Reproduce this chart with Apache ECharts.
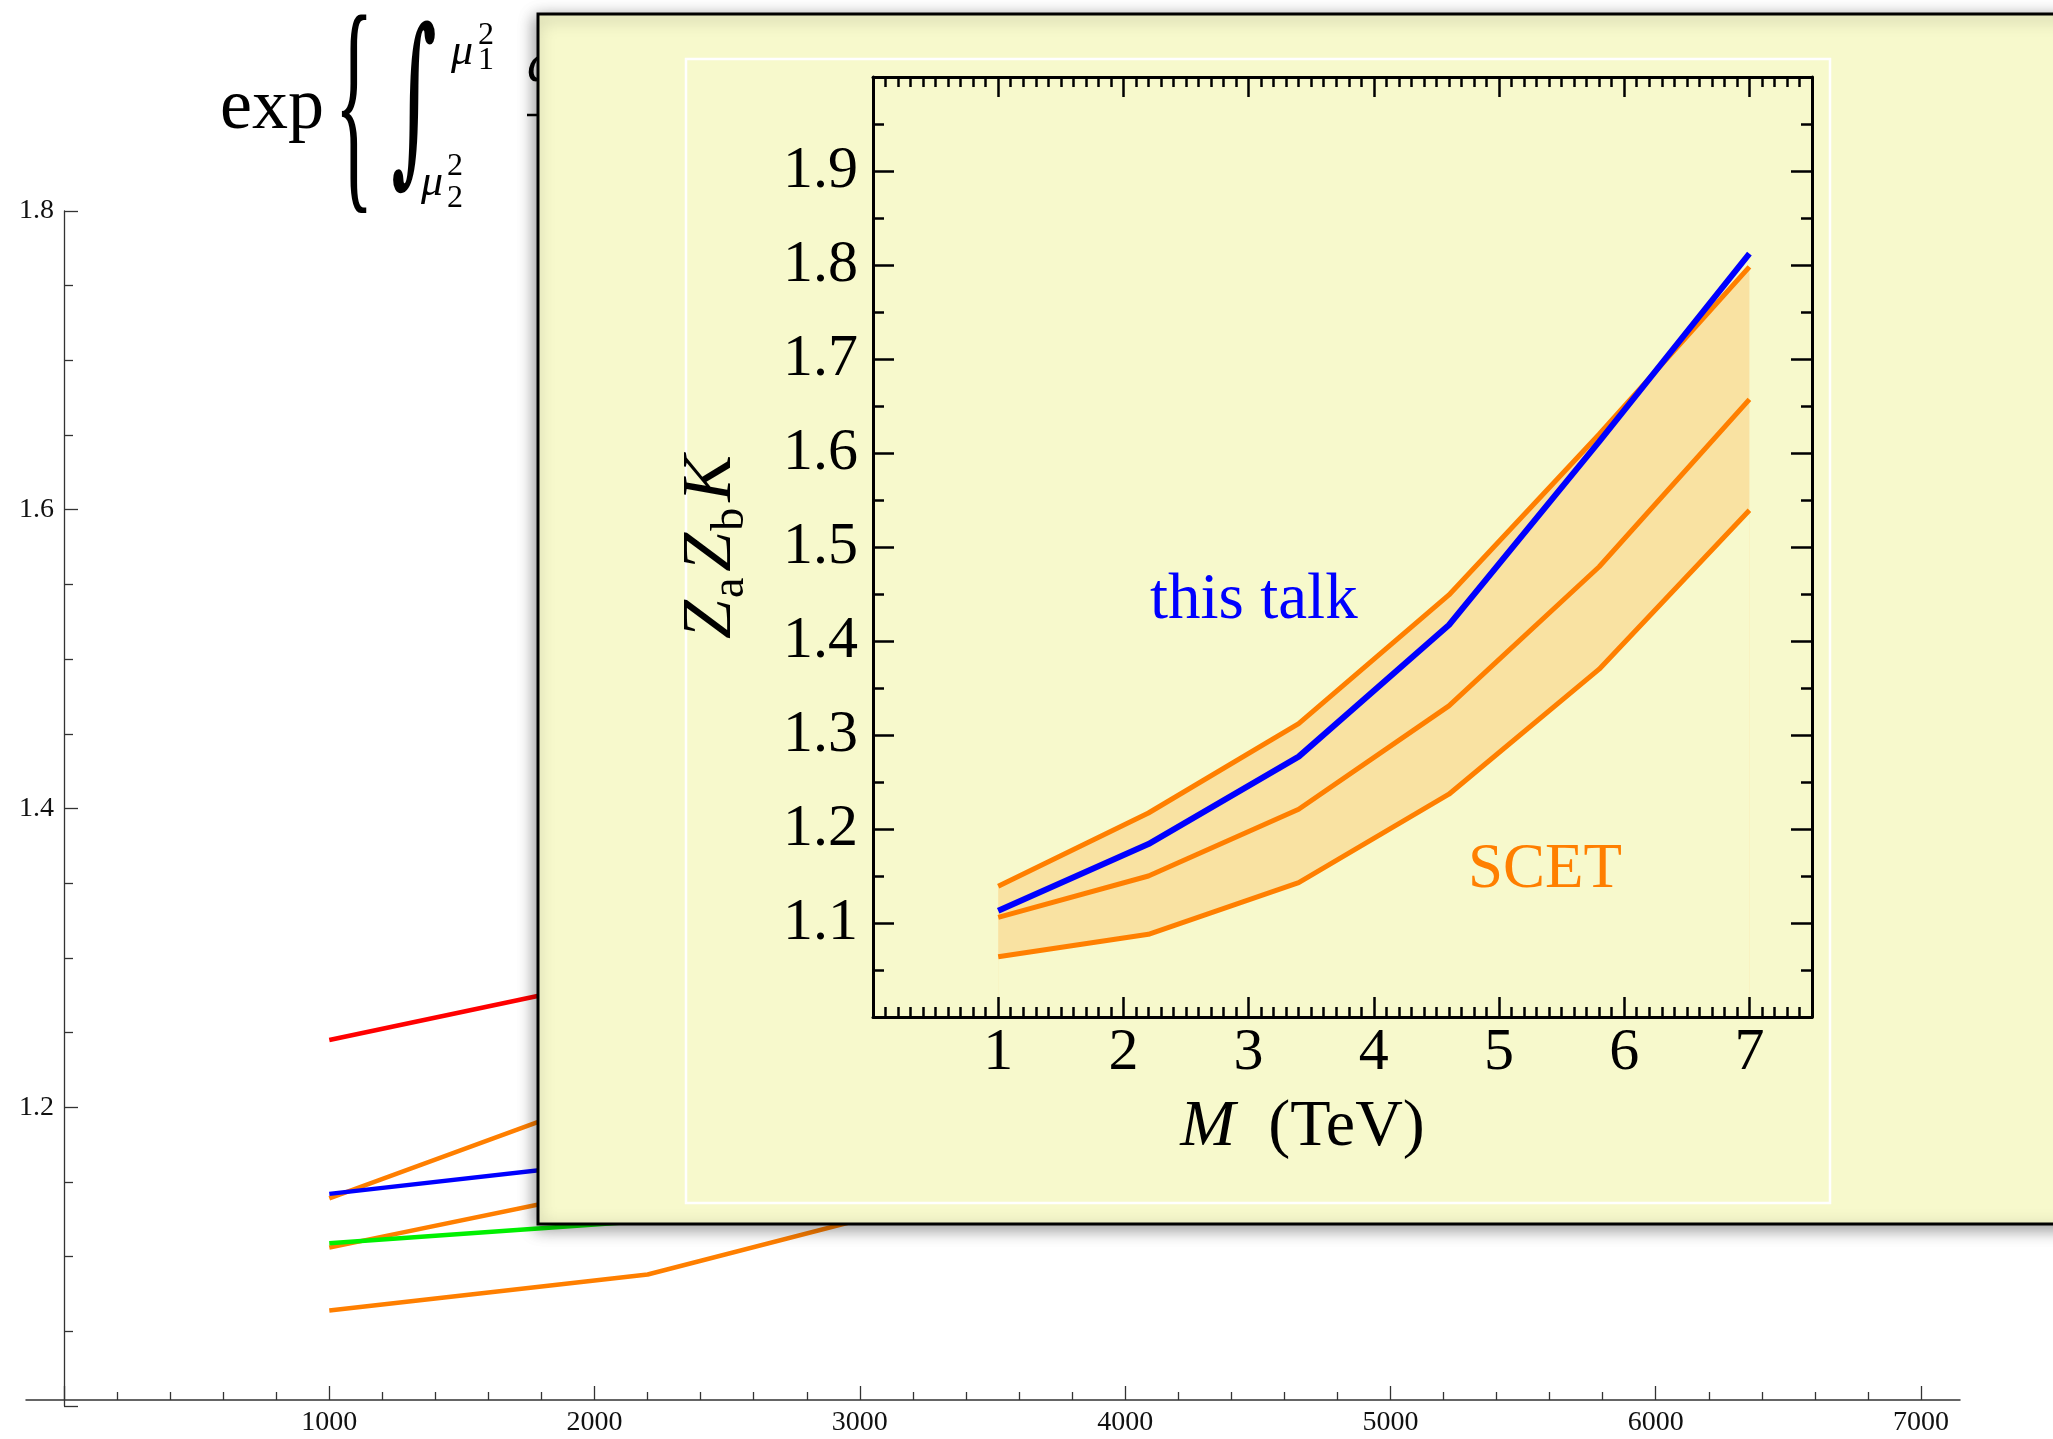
<!DOCTYPE html>
<html>
<head>
<meta charset="utf-8">
<title>Za Zb K vs M</title>
<script src="https://cdn.jsdelivr.net/npm/echarts@6/dist/echarts.min.js"></script>
<style>
html, body { margin: 0; padding: 0; background: #fff; }
#chart { width: 2053px; height: 1439px; }
</style>
</head>
<body>
<div id="chart"></div>
<script>
// inset: M in TeV
const massTeV = [1, 2.2, 3.4, 4.6, 5.8, 7]
const thisTalk = [1.113, 1.184, 1.277, 1.417, 1.612, 1.812]
const scetHigh = [1.139, 1.217, 1.312, 1.449, 1.620, 1.798]
const scetMid = [1.106, 1.150, 1.221, 1.331, 1.479, 1.657]
const scetLow = [1.064, 1.088, 1.143, 1.237, 1.370, 1.539]

// background plot, M in GeV (mostly hidden by the inset)
const massGeV = [1000, 2200, 3400, 4600, 5800, 7000]
const bgRed = [1.245, 1.290]
const bgBlue = [1.142, 1.166]
const bgGreen = [1.109, 1.124]

// tick labels
const bgXLabels = [1000, 2000, 3000, 4000, 5000, 6000, 7000]
const bgYLabels = ['1.2', '1.4', '1.6', '1.8']
const insetXLabels = [1, 2, 3, 4, 5, 6, 7]
const insetYLabels = ['1.1', '1.2', '1.3', '1.4', '1.5', '1.6', '1.7', '1.8', '1.9']

const serif = '"Liberation Serif", "DejaVu Serif", serif'
const orange = '#ff7f00'
const panelColor = '#f7f9cc'

const pts = (xs, ys) => ys.map((y, i) => [xs[i], y])

// line on the background plot
function bgLine(name, data, color) {
    return {
        name: name, type: 'line', xAxisIndex: 0, yAxisIndex: 0,
        data: data, symbol: 'none', silent: true, z: 2,
        lineStyle: { color: color, width: 4.5 }
    }
}

// line on the inset
function insetLine(name, data, color, width, z) {
    return {
        name: name, type: 'line', xAxisIndex: 2, yAxisIndex: 2,
        data: data, symbol: 'none', silent: true, z: z,
        lineStyle: { color: color, width: width }
    }
}

// filled area under a line of the inset (kept below the axes so ticks stay visible)
function insetArea(name, data, color) {
    return {
        name: name, type: 'line', xAxisIndex: 2, yAxisIndex: 2,
        data: data, symbol: 'none', silent: true, z: 8,
        lineStyle: { width: 0, opacity: 0 },
        areaStyle: { color: color, opacity: 1 }
    }
}

// inset x axes (major / minor ticks, bottom / top)
function insetX(position, major) {
    return {
        gridIndex: 2, type: 'value', position: position, min: 0, max: 7.5,
        interval: major ? 1 : 0.1, z: 10,
        axisLine: { show: major, onZero: false, lineStyle: { color: '#000', width: 3 } },
        axisTick: { show: true, inside: true, length: major ? 20 : 10, lineStyle: { color: '#000', width: 2.5 } },
        splitLine: { show: false },
        axisLabel: {
            show: major && position === 'bottom', margin: 6,
            fontFamily: serif, fontSize: 60, color: '#000',
            formatter: v => insetXLabels.includes(v) ? String(v) : ''
        }
    }
}

// inset y axes
function insetY(position) {
    return {
        gridIndex: 2, type: 'value', position: position, min: 1, max: 2, interval: 0.1, z: 10,
        axisLine: { show: true, onZero: false, lineStyle: { color: '#000', width: 3 } },
        axisTick: { show: true, inside: true, length: 21, lineStyle: { color: '#000', width: 2.5 } },
        minorTick: { show: true, splitNumber: 2, length: 11, lineStyle: { color: '#000', width: 2.5 } },
        splitLine: { show: false },
        axisLabel: {
            show: position === 'left', margin: 15,
            fontFamily: serif, fontSize: 60, color: '#000',
            formatter: v => insetYLabels.includes(v.toFixed(1)) && v > 1.05 && v < 1.95 ? v.toFixed(1) : ''
        }
    }
}

let option = {
    animation: false,
    backgroundColor: '#fff',
    grid: [
        { left: 64, top: 211, width: 1857, height: 1195 },   // background plot
        { left: 26, top: 211, width: 1934, height: 1189 },   // background x axis line
        { left: 873, top: 77, width: 939, height: 940 }      // inset
    ],
    xAxis: [
        {
            gridIndex: 0, type: 'value', min: 0, max: 7000, interval: 1000, offset: -6,
            axisLine: { show: false, onZero: false },
            axisTick: { show: true, inside: true, length: 14, lineStyle: { color: '#333', width: 1.3 } },
            minorTick: { show: true, splitNumber: 5, length: 8, lineStyle: { color: '#333', width: 1.3 } },
            splitLine: { show: false },
            axisLabel: {
                margin: 9, fontFamily: serif, fontSize: 28, color: '#111',
                formatter: v => bgXLabels.includes(v) ? String(v) : ''
            }
        },
        {
            gridIndex: 1, type: 'value', min: 0, max: 1,
            axisLine: { show: true, onZero: false, lineStyle: { color: '#333', width: 1.5 } },
            axisTick: { show: false }, axisLabel: { show: false }, splitLine: { show: false }
        },
        insetX('bottom', true),
        insetX('bottom', false),
        insetX('top', true),
        insetX('top', false)
    ],
    yAxis: [
        {
            gridIndex: 0, type: 'value', min: 1, max: 1.8, interval: 0.2,
            axisLine: { show: true, onZero: false, lineStyle: { color: '#333', width: 1.3 } },
            axisTick: { show: true, inside: true, length: 14, lineStyle: { color: '#333', width: 1.3 } },
            minorTick: { show: true, splitNumber: 4, length: 9, lineStyle: { color: '#333', width: 1.3 } },
            splitLine: { show: false },
            axisLabel: {
                margin: 10, fontFamily: serif, fontSize: 28, color: '#111',
                formatter: v => bgYLabels.includes(v.toFixed(1)) ? v.toFixed(1) : ''
            }
        },
        { gridIndex: 1, type: 'value', show: false, min: 0, max: 1 },
        Object.assign(insetY('left'), {
            name: '{z|Z}{s|a}{z|Z}{s|b}{z|K}',
            nameLocation: 'middle',
            nameGap: 119,
            nameTextStyle: {
                rich: {
                    z: { fontFamily: serif, fontStyle: 'italic', fontSize: 70, lineHeight: 84, verticalAlign: 'middle', color: '#000', padding: [0, 2, 0, 2] },
                    s: { fontFamily: serif, fontSize: 46, lineHeight: 42, verticalAlign: 'bottom', color: '#000', padding: [0, 4, 0, 0] }
                }
            }
        }),
        insetY('right')
    ],
    graphic: [
        // formula at the top, behind the inset
        { type: 'text', x: 272, y: 109, z: 1, style: { text: 'exp', font: '72px ' + serif, fill: '#000', textAlign: 'center', textVerticalAlign: 'middle' } },
        { type: 'text', x: 354, y: 118, z: 1, scaleX: 0.34, style: { text: '{', font: '240px ' + serif, fill: '#000', textAlign: 'center', textVerticalAlign: 'middle' } },
        { type: 'text', x: 414, y: 112, z: 1, scaleX: 0.55, scaleY: 1.15, style: { text: '∫', font: '160px "DejaVu Serif", serif', fill: '#000', textAlign: 'center', textVerticalAlign: 'middle' } },
        { type: 'text', x: 451, y: 52, z: 1, style: { text: 'μ', font: 'italic 44px ' + serif, fill: '#000', textAlign: 'left', textVerticalAlign: 'middle' } },
        { type: 'text', x: 478, y: 36, z: 1, style: { text: '2', font: '32px ' + serif, fill: '#000', textAlign: 'left', textVerticalAlign: 'middle' } },
        { type: 'text', x: 478, y: 61, z: 1, style: { text: '1', font: '32px ' + serif, fill: '#000', textAlign: 'left', textVerticalAlign: 'middle' } },
        { type: 'text', x: 421, y: 183, z: 1, style: { text: 'μ', font: 'italic 44px ' + serif, fill: '#000', textAlign: 'left', textVerticalAlign: 'middle' } },
        { type: 'text', x: 447, y: 167, z: 1, style: { text: '2', font: '32px ' + serif, fill: '#000', textAlign: 'left', textVerticalAlign: 'middle' } },
        { type: 'text', x: 447, y: 199, z: 1, style: { text: '2', font: '32px ' + serif, fill: '#000', textAlign: 'left', textVerticalAlign: 'middle' } },
        { type: 'text', x: 527, y: 66, z: 1, style: { text: 'dμ²', font: 'italic 56px ' + serif, fill: '#000', textAlign: 'left', textVerticalAlign: 'middle' } },
        { type: 'line', z: 1, shape: { x1: 527, y1: 115, x2: 700, y2: 115 }, style: { stroke: '#000', lineWidth: 2.5 } },

        // inset panel
        {
            type: 'rect', z: 5,
            shape: { x: 538, y: 14, width: 1540, height: 1210 },
            style: {
                fill: panelColor, stroke: '#000', lineWidth: 3,
                shadowBlur: 16, shadowColor: 'rgba(0,0,0,0.4)', shadowOffsetX: -2, shadowOffsetY: 4
            }
        },
        {
            type: 'rect', z: 6,
            shape: { x: 686, y: 59, width: 1144, height: 1144 },
            style: { fill: 'none', stroke: '#fff', lineWidth: 2.5 }
        },
        { type: 'text', x: 1150, y: 601, z: 20, style: { text: 'this talk', font: '65px ' + serif, fill: '#0000ff', textAlign: 'left', textVerticalAlign: 'middle' } },
        { type: 'text', x: 1545, y: 870, z: 20, style: { text: 'SCET', font: '63px ' + serif, fill: orange, textAlign: 'center', textVerticalAlign: 'middle' } }
    ],
    series: [
        // background plot
        bgLine('red', pts(massGeV, bgRed), '#ff0000'),
        bgLine('SCET high', pts(massGeV, scetHigh), orange),
        bgLine('blue', pts(massGeV, bgBlue), '#0000ff'),
        bgLine('SCET mid', pts(massGeV, scetMid), orange),
        bgLine('green', pts(massGeV, bgGreen), '#00f000'),
        bgLine('SCET low', pts(massGeV, scetLow), orange),

        // inset: shaded band between low and high
        insetArea('band', pts(massTeV, scetHigh), '#f9e2a2'),
        insetArea('band mask', pts(massTeV, scetLow), panelColor),

        insetLine('SCET low', pts(massTeV, scetLow), orange, 5, 12),
        insetLine('SCET mid', pts(massTeV, scetMid), orange, 5, 12),
        insetLine('SCET high', pts(massTeV, scetHigh), orange, 5, 12),
        insetLine('this talk', pts(massTeV, thisTalk), '#0000ff', 6, 13)
    ]
}

// inset x axis name
option.xAxis[2].name = '{i|M}{r|  (TeV)}'
option.xAxis[2].nameLocation = 'middle'
option.xAxis[2].nameGap = 78
option.xAxis[2].nameTextStyle = {
    padding: [0, 80, 0, 0],
    rich: {
        i: { fontFamily: serif, fontStyle: 'italic', fontSize: 66, color: '#000' },
        r: { fontFamily: serif, fontSize: 66, color: '#000' }
    }
}

let myChart = echarts.init(document.getElementById('chart'))
myChart.setOption(option)
</script>
</body>
</html>
